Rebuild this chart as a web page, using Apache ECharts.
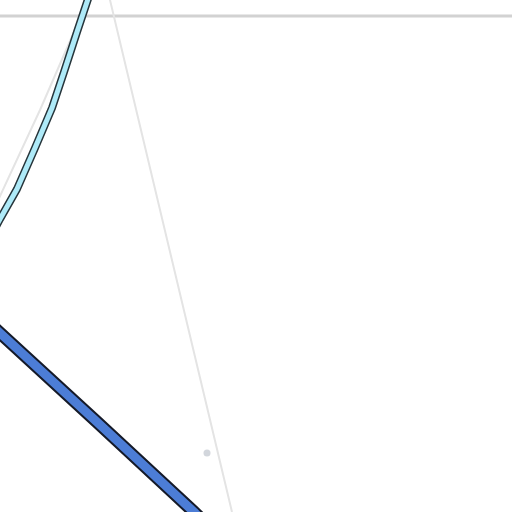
<!DOCTYPE html>
<html><head><meta charset="utf-8">
<script src="https://cdn.jsdelivr.net/npm/echarts@6/dist/echarts.min.js"></script>
<style>html,body{margin:0;padding:0;background:#fff}#c{width:512px;height:512px}</style>
</head><body><div id="c"></div>
<script>
const horizontalLine = [[-20,16],[540,16]];
const thinLineLeft = [[-20,240],[0,196],[40,110],[80,18],[90,-10]];
const thinLineRight = [[105,-20],[110,0],[232,512],[237,530]];
const cyanRoute = [[-10,238],[0,219],[17,189],[35,148],[52,108],[64,72],[77,32],[91,-10]];
const blueRoute = [[-20,315],[0,333],[97,422],[194,512],[214,532]];
const dots = [[207,453]];

const chart = echarts.init(document.getElementById('c'));
function line(data, color, width, z) {
  return {type:'line', data, showSymbol:false, symbol:'none', smooth:false, z,
    lineStyle:{color, width, cap:'round', join:'round'}, animation:false, clip:true, silent:true};
}
chart.setOption({
  animation:false,
  grid:{left:0,right:0,top:0,bottom:0},
  xAxis:{type:'value',min:0,max:512,show:false},
  yAxis:{type:'value',min:0,max:512,inverse:true,show:false},
  series:[
    line(horizontalLine,'#d2d2d2',3,1),
    line(thinLineLeft,'#e4e4e4',2,2),
    line(thinLineRight,'#e4e4e4',2,2),
    line(cyanRoute,'#26353b',8,3),
    line(cyanRoute,'#aeeaf8',5,4),
    line(blueRoute,'#151a28',13,3),
    line(blueRoute,'#4c7dd6',9,4),
    {type:'scatter',data:dots,symbolSize:7,itemStyle:{color:'#c7ccd3'},z:5,silent:true}
  ]
});
</script></body></html>
